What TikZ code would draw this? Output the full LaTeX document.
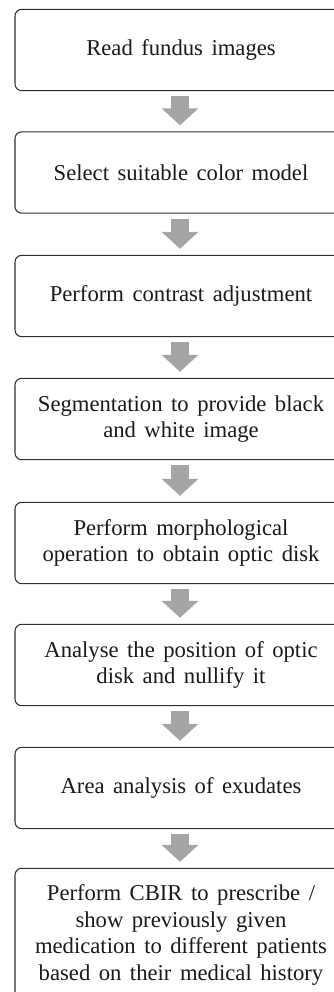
\documentclass[tikz,border=0pt]{standalone}
\usepackage{fontspec}
\setmainfont{Liberation Serif}[WordSpace=1.5]
\usetikzlibrary{arrows.meta,calc}

\definecolor{flowgray}{HTML}{A5A5A5}
\definecolor{boxline}{HTML}{303030}
\definecolor{inktext}{HTML}{1A1A1A}

\tikzset{
  % one unit = one pixel, y grows downwards
  x=0.75pt, y=-0.75pt,
  stepbox/.style={draw=boxline, line width=0.8pt, rounded corners=5pt,
    fill=white, text=inktext, align=center,
    minimum width=249pt, minimum height=61pt, inner sep=0pt,
    font=\fontsize{17pt}{20pt}\selectfont},
  flow/.style={draw=flowgray, line width=13.5pt,
    -{Triangle[width=27pt,length=12.75pt]}}
}

\begin{document}
\begin{tikzpicture}
\useasboundingbox (0,0) rectangle (334,992);
\clip (0,0) rectangle (334,992);

\node[stepbox] (b1) at (181,50)    {Read fundus images};
\node[stepbox] (b2) at (181,172.5) {Select suitable color model};
\node[stepbox] (b3) at (181,296)   {Perform contrast adjustment};
\node[stepbox] (b4) at (181,419)   {Segmentation to provide black\\and white image};
\node[stepbox] (b5) at (181,543)   {Perform morphological\\operation to obtain optic disk};
\node[stepbox] (b6) at (181,665)   {Analyse the position of optic\\disk and nullify it};
\node[stepbox] (b7) at (181,788)   {Area analysis of exudates};
\node[stepbox, minimum height=100pt] (b8) at (181,935)
  {Perform CBIR to prescribe /\\show previously given\\medication to different patients\\based on their medical history};

% block arrows between consecutive steps
\foreach \a/\b in {b1/b2,b2/b3,b3/b4,b4/b5,b5/b6,b6/b7,b7/b8}
  \draw[flow] ($(\a.south)+(-1,5)$) -- ($(\b.north)+(-1,-6)$);
\end{tikzpicture}
\end{document}
